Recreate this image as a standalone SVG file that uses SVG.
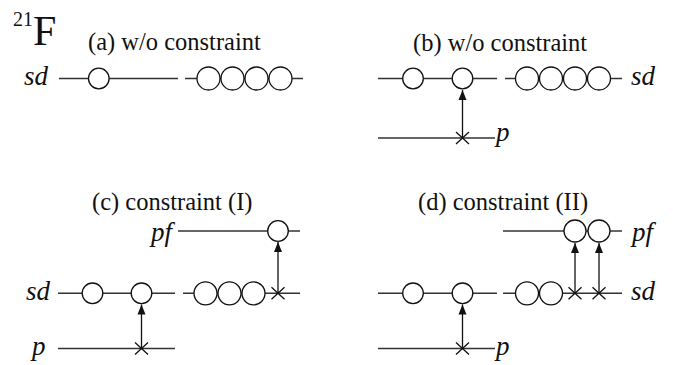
<svg xmlns="http://www.w3.org/2000/svg" width="673" height="365" viewBox="0 0 673 365">
<style>
.ln{stroke:#333;stroke-width:1.4;fill:none}
.c{stroke:#111;stroke-width:1.3;fill:#fff}
.x{stroke:#111;stroke-width:1.3;fill:none}
.ar{stroke:#111;stroke-width:1.3;fill:none}
.t{font-family:"Liberation Serif","Times New Roman",serif;font-size:24.5px;fill:#111}
.i{font-family:"Liberation Serif","Times New Roman",serif;font-style:italic;font-size:27px;fill:#111}
</style>
<defs>
<marker id="ah" markerWidth="12" markerHeight="10" refX="10" refY="5" orient="auto" markerUnits="userSpaceOnUse">
<path d="M0,1 L10,5 L0,9 Z" fill="#111"/>
</marker>
</defs>
<rect width="673" height="365" fill="#fff"/>
<g id="title">
<text class="t" x="13" y="26" style="font-size:20px">21</text>
<text class="t" x="33" y="45" style="font-size:42px">F</text>
</g>
<g id="labels">
<text class="t" x="88" y="50">(a) w/o constraint</text>
<text class="t" x="413" y="51">(b) w/o constraint</text>
<text class="t" x="92" y="210">(c) constraint (I)</text>
<text class="t" x="418" y="210">(d) constraint (II)</text>
<text class="i" x="24" y="85">sd</text>
<text class="i" x="631" y="85">sd</text>
<text class="i" x="26" y="300">sd</text>
<text class="i" x="631" y="300">sd</text>
<text class="i" x="496" y="141">p</text>
<text class="i" x="32" y="355">p</text>
<text class="i" x="496" y="355">p</text>
<text class="i" x="151" y="241">pf</text>
<text class="i" x="632" y="241">pf</text>
</g>
<g id="connectors">
<line class="ln" x1="59" y1="78.5" x2="178" y2="78.5"/>
<line class="ln" x1="185" y1="78.5" x2="303" y2="78.5"/>
<line class="ln" x1="378" y1="78.5" x2="497" y2="78.5"/>
<line class="ln" x1="505" y1="78.5" x2="622" y2="78.5"/>
<line class="ln" x1="378" y1="138" x2="495" y2="138"/>
<line class="ar" x1="462.5" y1="138" x2="462.5" y2="90" marker-end="url(#ah)"/>
<line class="ln" x1="178" y1="231" x2="300" y2="231"/>
<line class="ln" x1="58" y1="293.3" x2="175" y2="293.3"/>
<line class="ln" x1="183" y1="293.3" x2="300" y2="293.3"/>
<line class="ln" x1="58" y1="348.5" x2="175" y2="348.5"/>
<line class="ar" x1="141.5" y1="348.5" x2="141.5" y2="304.5" marker-end="url(#ah)"/>
<line class="ar" x1="278" y1="293.3" x2="278" y2="242" marker-end="url(#ah)"/>
<line class="ln" x1="503" y1="231" x2="622" y2="231"/>
<line class="ln" x1="378" y1="293.3" x2="497" y2="293.3"/>
<line class="ln" x1="503" y1="293.3" x2="622" y2="293.3"/>
<line class="ln" x1="378" y1="348.5" x2="495" y2="348.5"/>
<line class="ar" x1="462.5" y1="348.5" x2="462.5" y2="304.5" marker-end="url(#ah)"/>
<line class="ar" x1="575" y1="293.3" x2="575" y2="243" marker-end="url(#ah)"/>
<line class="ar" x1="599" y1="293.3" x2="599" y2="243" marker-end="url(#ah)"/>
</g>
<g id="nodes-a">
<circle class="c" cx="98.8" cy="78.5" r="10.3"/>
<circle class="c" cx="208.5" cy="78.5" r="11.5"/>
<circle class="c" cx="232.5" cy="78.5" r="11.5"/>
<circle class="c" cx="256.5" cy="78.5" r="11.5"/>
<circle class="c" cx="280.5" cy="78.5" r="11.5"/>
</g>
<g id="nodes-b">
<circle class="c" cx="413" cy="78.5" r="10.3"/>
<circle class="c" cx="462.5" cy="78.5" r="10.3"/>
<circle class="c" cx="527" cy="78.5" r="11.5"/>
<circle class="c" cx="551" cy="78.5" r="11.5"/>
<circle class="c" cx="575" cy="78.5" r="11.5"/>
<circle class="c" cx="599" cy="78.5" r="11.5"/>
<path class="x" d="M456,132 L469,144 M469,132 L456,144"/>
</g>
<g id="nodes-c">
<circle class="c" cx="278" cy="231" r="10.3"/>
<circle class="c" cx="92.5" cy="293.3" r="10.3"/>
<circle class="c" cx="141.5" cy="293.3" r="10.3"/>
<circle class="c" cx="205.5" cy="293.3" r="11.5"/>
<circle class="c" cx="229.5" cy="293.3" r="11.5"/>
<circle class="c" cx="253.5" cy="293.3" r="11.5"/>
<path class="x" d="M271.5,287.3 L284.5,299.3 M284.5,287.3 L271.5,299.3"/>
<path class="x" d="M135,342.5 L148,354.5 M148,342.5 L135,354.5"/>
</g>
<g id="nodes-d">
<circle class="c" cx="575" cy="231" r="11"/>
<circle class="c" cx="599" cy="231" r="11"/>
<circle class="c" cx="413" cy="293.3" r="10.3"/>
<circle class="c" cx="462.5" cy="293.3" r="10.3"/>
<circle class="c" cx="527" cy="293.3" r="11.5"/>
<circle class="c" cx="551" cy="293.3" r="11.5"/>
<path class="x" d="M568.5,287.3 L581.5,299.3 M581.5,287.3 L568.5,299.3"/>
<path class="x" d="M592.5,287.3 L605.5,299.3 M605.5,287.3 L592.5,299.3"/>
<path class="x" d="M456,342.5 L469,354.5 M469,342.5 L456,354.5"/>
</g>
</svg>
